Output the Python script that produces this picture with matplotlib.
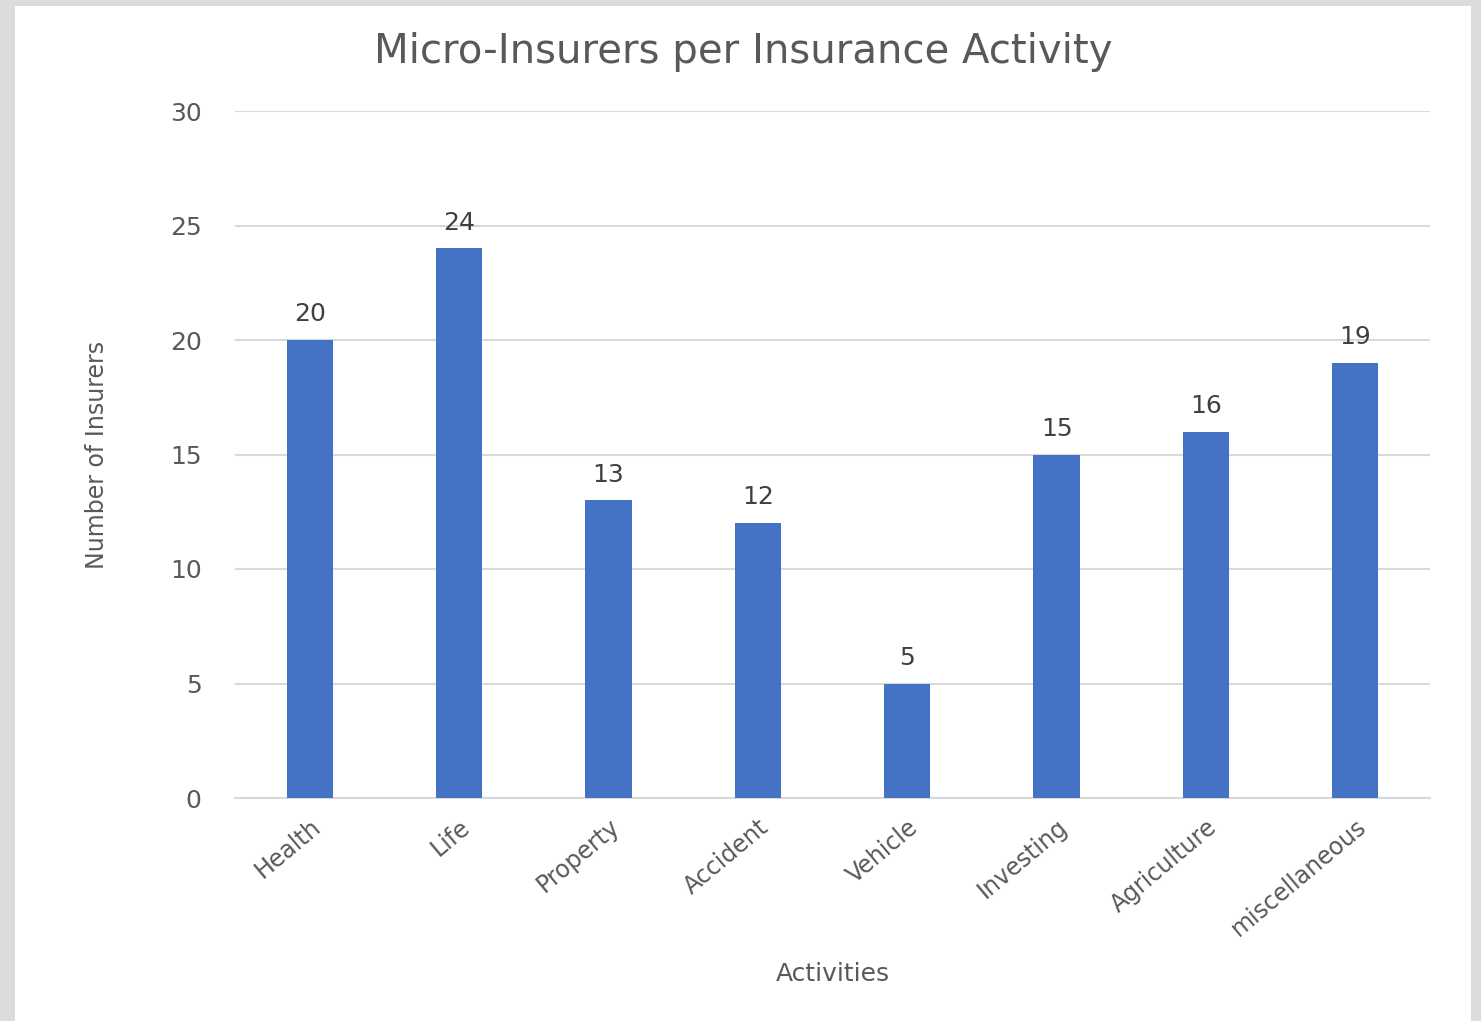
import matplotlib
matplotlib.use("Agg")
import matplotlib.pyplot as plt
from matplotlib.patches import Rectangle

plt.rcParams['font.family'] = ['DejaVu Sans']

# chart data
activities = ["Health", "Life", "Property", "Accident", "Vehicle",
              "Investing", "Agriculture", "miscellaneous"]
insurers = [20, 24, 13, 12, 5, 15, 16, 19]
y_ticks = [0, 5, 10, 15, 20, 25, 30]

W, H = 1481, 1021
fig = plt.figure(figsize=(W / 100, H / 100), dpi=100)
fig.patch.set_facecolor("#dcdcdc")
# white chart sheet inside the grey screenshot frame
bg = fig.add_axes([0, 0, 1, 1], zorder=-5)
bg.set_xlim(0, W)
bg.set_ylim(H, 0)
bg.axis("off")
bg.add_patch(Rectangle((15, 6), 1471 - 15, H - 6, facecolor="white",
                       edgecolor="none"))

ax = fig.add_axes([235 / W, 1 - 798 / H, (1430 - 235) / W, (798 - 111) / H])
ax.set_facecolor("none")

x = range(len(activities))
bars = ax.bar(x, insurers, width=0.31, color="#4472C4", zorder=3)
for b, v in zip(bars, insurers):
    ax.text(b.get_x() + b.get_width() / 2, v + 0.6, str(v), ha="center",
            va="bottom", fontsize=18, color="#404040")

ax.set_xlim(-0.5, len(activities) - 0.5)
ax.set_ylim(0, 30)
ax.set_yticks(y_ticks)
ax.set_yticklabels([str(t) for t in y_ticks])
ax.set_xticks(list(x))
ax.set_xticklabels(activities, rotation=40, ha="right", rotation_mode="anchor")
ax.tick_params(axis="both", length=0, labelsize=18, labelcolor="#595959")
ax.tick_params(axis="x", labelsize=17, pad=12)
ax.tick_params(axis="y", pad=24)

ax.grid(axis="y", color="#d9d9d9", linewidth=1.5, zorder=0)
for s in ["top", "right", "left"]:
    ax.spines[s].set_visible(False)
ax.spines["bottom"].set_color("#d9d9d9")
ax.spines["bottom"].set_linewidth(1.5)

ax.set_ylabel("Number of Insurers", fontsize=17, color="#595959", labelpad=44)
ax.set_xlabel("Activities", fontsize=18, color="#595959", labelpad=15)
fig.text(743 / W, 1 - 52 / H, "Micro-Insurers per Insurance Activity",
         ha="center", va="center", fontsize=29, color="#595959")

fig.savefig("out.png", dpi=100)
